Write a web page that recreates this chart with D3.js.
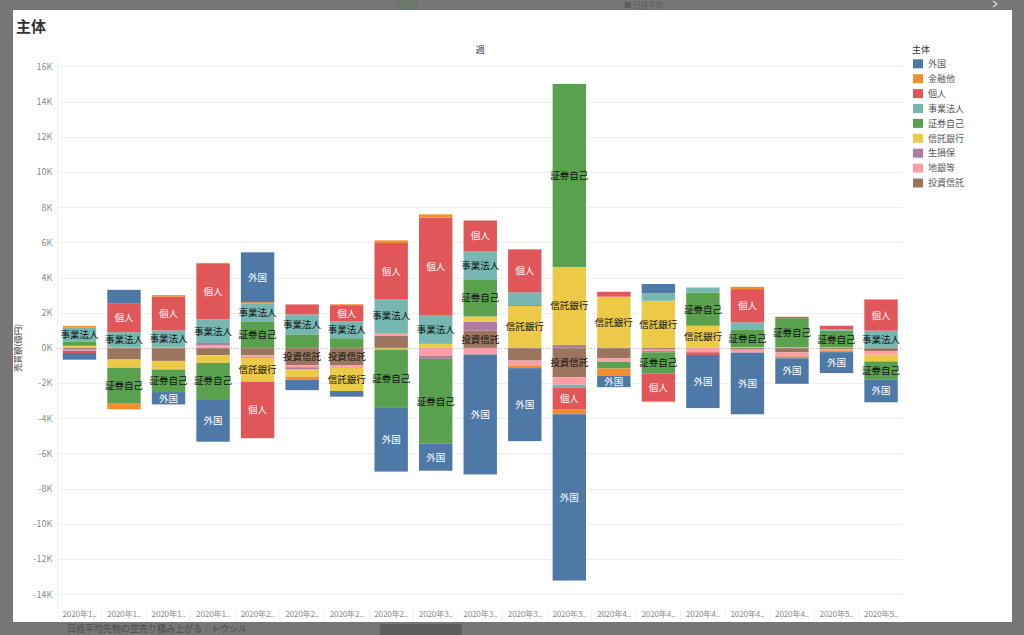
<!DOCTYPE html>
<html><head><meta charset="utf-8">
<script src="https://cdn.jsdelivr.net/npm/d3@7"></script>
<style>
body{margin:0;background:#767676;overflow:hidden}
text{font-family:"Noto Sans CJK JP","Noto Sans",sans-serif}
</style>
</head><body><svg id="c" width="1024" height="635"></svg>
<script>
// ---- data (values in thousands of 億円) ----
const weeks = ["2020年1..","2020年1..","2020年1..","2020年1..","2020年2..","2020年2..","2020年2..","2020年2..",
  "2020年3..","2020年3..","2020年3..","2020年3..","2020年4..","2020年4..","2020年4..","2020年4..","2020年4..",
  "2020年5..","2020年5.."];
const categories = ["外国","金融他","個人","事業法人","証券自己","信託銀行","生損保","地銀等","投資信託"];
const palette = ["#4e79a7","#f28e2b","#e15759","#76b7b2","#59a14f","#edc948","#b07aa1","#ff9da7","#9c755f"];
const whiteLabelCats = ["外国","個人"];

const gaikoku   = [-0.38, 0.79,-0.70,-2.42, 2.83,-0.60,-0.32,-3.62,-1.55,-6.81,-4.15,-9.45,-0.64, 0.53,-3.02,-3.49,-1.45,-1.19,-1.28];
const kinyuta   = [ 0.08,-0.32, 0.09, 0.06, 0.09,-0.15, 0.05, 0.15, 0.19, 0.00,-0.15,-0.26,-0.42,-0.05, 0.00, 0.13,-0.10,-0.10, 0.04];
const kojin     = [-0.12, 1.62, 1.92, 3.15,-3.21, 0.57, 0.92, 3.19, 5.53, 1.74, 2.45,-1.23, 0.28,-1.58,-0.15, 1.89, 0.08, 0.19, 1.75];
const jigyo     = [ 0.83, 0.85, 0.94, 1.34, 1.00, 1.13, 0.96, 1.92, 1.64, 1.60, 0.72,-0.19, 0.00, 0.42, 0.28, 0.43, 0.00, 0.10, 0.98];
const shoken    = [ 0.22,-2.04,-1.28,-2.06, 1.51, 0.77, 0.55,-3.31,-4.81, 2.11, 0.05,10.40,-0.38,-1.20, 1.89, 0.98, 1.66, 0.94,-1.04];
const shintaku  = [ 0.12,-0.47,-0.49,-0.43,-1.36,-0.42,-1.32,-0.10, 0.23, 0.30, 2.38, 4.43, 2.91, 2.68, 1.26, 0.04, 0.03, 0.03,-0.38];
const seison    = [-0.03, 0.02, 0.00, 0.13,-0.05,-0.13,-0.03, 0.00,-0.17, 0.51, 0.00, 0.17, 0.00,-0.07, 0.00,-0.03,-0.05, 0.00, 0.00];
const chigin    = [-0.04, 0.02, 0.05, 0.15,-0.09,-0.12,-0.10, 0.17,-0.45,-0.38,-0.28,-0.43,-0.19,-0.08,-0.25,-0.15,-0.19,-0.08,-0.19];
const toshin    = [-0.10,-0.66,-0.74,-0.42,-0.42,-0.98,-1.00, 0.68, 0.00, 0.98,-0.72,-1.66,-0.60,-0.10, 0.00,-0.10,-0.25,-0.06,-0.20];
const seriesValues = [gaikoku,kinyuta,kojin,jigyo,shoken,shintaku,seison,chigin,toshin];

const yTicks = [-14,-12,-10,-8,-6,-4,-2,0,2,4,6,8,10,12,14,16];
const yTickLabels = yTicks.map(v => v + "K");
const labelThreshold = 0.8;
const extraLabels = [[2,"外国"],[12,"外国"]];

// ---- layout ----
const svg = d3.select("#c");
const W = 1024, H = 635;
const plot = {left:57.2, right:903.3, top:57, bottom:608};

svg.append("rect").attr("width",W).attr("height",H).attr("fill","#767676");
// faint background page elements behind the overlay
svg.append("rect").attr("x",397).attr("y",0).attr("width",21).attr("height",10).attr("fill","#6d786d");
svg.append("text").attr("x",624).attr("y",8).attr("font-size",7.5).attr("fill","#5c5c5c").text("■ 日経平均");
svg.append("text").attr("x",67).attr("y",632.3).attr("font-size",9).attr("fill","#4d4d4d").text("日経平均先物の空売り積み上がる｜トウシル");
svg.append("rect").attr("x",380).attr("y",624).attr("width",82).attr("height",11).attr("fill","#5e5e5e");
svg.append("path").attr("d","M993,1 L997,4 L993,7").attr("fill","none").attr("stroke","#dddddd").attr("stroke-width",1.2);

svg.append("rect").attr("x",13).attr("y",10).attr("width",999).attr("height",612).attr("fill","#ffffff");

svg.append("text").attr("x",16).attr("y",32).attr("font-size",15).attr("font-weight","bold").attr("fill","#333").text("主体");

const x = d3.scaleBand().domain(d3.range(weeks.length)).range([plot.left, plot.right]).paddingInner(0.25).paddingOuter(0.125);
const y = d3.scaleLinear().domain([-14.78, 16.53]).range([plot.bottom, plot.top]);

// gridlines
svg.append("g").selectAll("line").data(yTicks.filter(v=>v!==0)).join("line")
  .attr("x1",plot.left).attr("x2",plot.right)
  .attr("y1",d=>Math.round(y(d))+0.5).attr("y2",d=>Math.round(y(d))+0.5)
  .attr("stroke","#efefef").attr("stroke-width",1);
svg.append("line").attr("x1",plot.left+0.5).attr("x2",plot.left+0.5).attr("y1",plot.top).attr("y2",plot.bottom)
  .attr("stroke","#ececec");

// y axis labels
const yAxis = d3.axisLeft(y).tickValues(yTicks).tickFormat((d,i)=>yTickLabels[i]).tickSize(0).tickPadding(5);
const ya = svg.append("g").attr("transform",`translate(${plot.left},0)`).call(yAxis);
ya.select(".domain").remove();
ya.selectAll("text").attr("font-size",9).attr("fill","#8a8a8a").attr("font-family",'"Noto Sans CJK JP",sans-serif');

svg.append("text").attr("transform",`translate(21,${y(0)}) rotate(-90)`).attr("text-anchor","middle")
  .attr("font-size",8.5).attr("fill","#333").text("売買額(億円)");
svg.append("text").attr("x",(plot.left+plot.right)/2).attr("y",53).attr("text-anchor","middle")
  .attr("font-size",9).attr("fill","#333").text("週");

// x axis labels
const xa = svg.append("g").attr("transform",`translate(0,${plot.bottom})`)
  .call(d3.axisBottom(x).tickFormat(i=>weeks[i]).tickSize(0).tickPadding(3));
xa.select(".domain").remove();
xa.selectAll("text").attr("font-size",8.2).attr("letter-spacing","-0.2").attr("fill","#8a8a8a").attr("font-family",'"Noto Sans CJK JP",sans-serif');
// header separators
svg.append("g").selectAll("line").data(d3.range(1,weeks.length)).join("line")
  .attr("x1",i=>x(i)-x.step()*x.paddingInner()/2).attr("x2",i=>x(i)-x.step()*x.paddingInner()/2)
  .attr("y1",plot.bottom+2).attr("y2",plot.bottom+13).attr("stroke","#f0f0f0");

// stacked bars
const rows = weeks.map((w,i)=>{ const r={i}; categories.forEach((c,k)=>r[c]=seriesValues[k][i]); return r; });
const stackKeys = categories.slice().reverse();
const stacked = d3.stack().keys(stackKeys).offset(d3.stackOffsetDiverging)(rows);
const color = d3.scaleOrdinal().domain(categories).range(palette);

const segs = [];
stacked.forEach(layer => layer.forEach((s,i) => {
  if (s[1] !== s[0]) segs.push({cat:layer.key, i, y0:s[0], y1:s[1], v:rows[i][layer.key]});
}));

svg.append("g").selectAll("rect").data(segs).join("rect")
  .attr("x",d=>x(d.i)).attr("width",x.bandwidth())
  .attr("y",d=>y(Math.max(d.y0,d.y1))).attr("height",d=>Math.abs(y(d.y0)-y(d.y1)))
  .attr("fill",d=>color(d.cat));

// zero line
svg.append("line").attr("x1",plot.left).attr("x2",plot.right).attr("y1",Math.round(y(0))+0.5).attr("y2",Math.round(y(0))+0.5)
  .attr("stroke","#aaaaaa").attr("stroke-dasharray","1,2");

const isLabeled = d => Math.abs(d.v) >= labelThreshold || extraLabels.some(e=>e[0]===d.i && e[1]===d.cat);
svg.append("g").selectAll("text").data(segs.filter(isLabeled)).join("text")
  .attr("x",d=>x(d.i)+x.bandwidth()/2).attr("y",d=>y((d.y0+d.y1)/2))
  .attr("dy","0.36em").attr("text-anchor","middle").attr("font-size",9.5)
  .attr("fill",d=>whiteLabelCats.includes(d.cat)?"#ffffff":"#111111")
  .text(d=>d.cat);

// legend
const lg = svg.append("g").attr("transform","translate(912,0)");
lg.append("text").attr("x",0).attr("y",53).attr("font-size",9).attr("fill","#333").text("主体");
const li = lg.selectAll("g.item").data(categories).join("g").attr("class","item")
  .attr("transform",(d,k)=>`translate(1,${59.3+k*14.9})`);
li.append("rect").attr("width",10).attr("height",9).attr("fill",d=>color(d));
li.append("text").attr("x",15).attr("y",4.5).attr("dy","0.36em").attr("font-size",9).attr("fill","#555").text(d=>d);
</script>
</body></html>
